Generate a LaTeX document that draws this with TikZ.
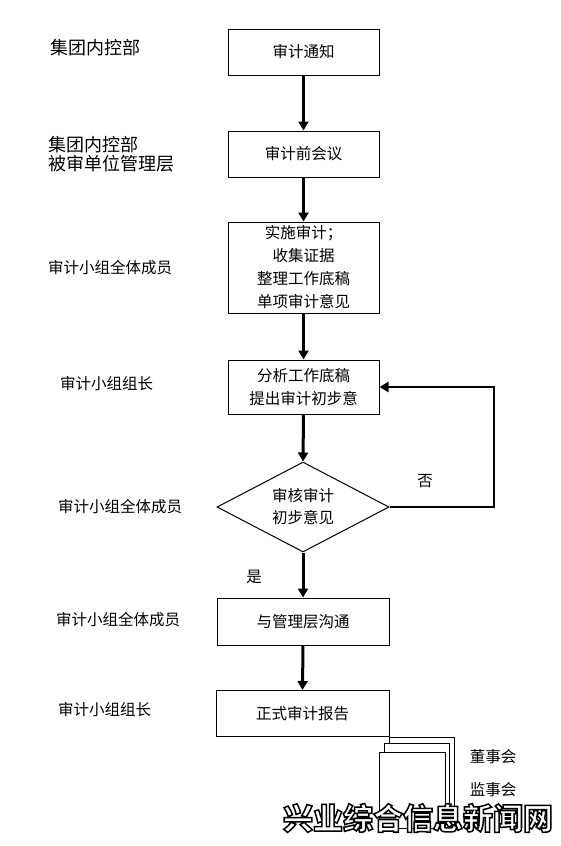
\documentclass[tikz,border=0pt]{standalone}
\usepackage{fontspec}
\setmainfont{Noto Sans CJK SC}
\usetikzlibrary{shapes.geometric,arrows.meta,calc}
\begin{document}
\begin{tikzpicture}[x=1pt,y=-1pt,
  box/.style={draw, line width=1pt, minimum width=151pt, inner sep=0pt, align=center, font=\fontsize{15.5}{23}\selectfont},
  flow/.style={line width=3pt, -{Triangle[width=10pt,length=9pt]}},
  loopline/.style={line width=2.2pt, -{Triangle[width=10pt,length=9pt]}},
  lab/.style={anchor=west, inner sep=0pt, font=\fontsize{15.5}{18}\selectfont, align=left},
  biglab/.style={anchor=west, inner sep=0pt, font=\fontsize{18}{19}\selectfont, align=left},
  note/.style={inner sep=0pt, font=\fontsize{15.5}{18}\selectfont},
  doc/.style={draw, line width=1pt, fill=white},
  wm/.style={inner sep=0pt, font=\fontsize{30}{30}\selectfont\bfseries}]
\useasboundingbox (0,0) rectangle (560,846);

% boxes
\node[box, minimum height=46pt] (b1) at (303.5,52) {审计通知};
\node[box, minimum height=46pt] (b2) at (303.5,154) {审计前会议};
\node[box, minimum height=91pt] (b3) at (303.5,267.5) {实施审计；\\收集证据\\整理工作底稿\\单项审计意见};
\node[box, minimum height=54pt] (b4) at (303.5,387) {分析工作底稿\\提出审计初步意};
\node[draw, line width=1pt, diamond, aspect=1.9, minimum width=172pt, minimum height=90pt, inner sep=0pt, align=center, font=\fontsize{15.5}{22}\selectfont] (d) at (303,507) {审核审计\\初步意见};
\node[box, minimum width=172pt, minimum height=47pt] (b5) at (303,621.5) {与管理层沟通};
\node[box, minimum width=173pt, minimum height=46pt] (b6) at (302.5,713.5) {正式审计报告};

% flow arrows
\draw[flow] (b1.south) -- (b2.north);
\draw[flow] (b2.south) -- (b3.north);
\draw[flow] (b3.south) -- (b4.north);
\draw[flow] (b4.south) -- (d.north);
\draw[flow] (d.south) -- (b5.north);
\draw[flow] (b5.south) -- (b6.north);

% loop back
\coordinate (lp) at (494,387);
\draw[loopline] (d.east) -| (lp) -- (b4.east);
\node[note] (no) at (425,481) {否};
\node[note] (yes) at (254,577) {是};

% left labels
\node[biglab] (l1) at (50,48) {集团内控部};
\node[biglab] (l2) at (48,154) {集团内控部\\被审单位管理层};
\node[lab] (l3) at (48,268) {审计小组全体成员};
\node[lab] (l4) at (60,384) {审计小组组长};
\node[lab] (l5) at (58,507) {审计小组全体成员};
\node[lab] (l6) at (56,620) {审计小组全体成员};
\node[lab] (l7) at (58,710) {审计小组组长};

% stacked documents
\draw[doc] (389,737) rectangle (454,828);
\draw[doc] (384,743) rectangle (449,828);
\draw[doc] (379,752) rectangle (445,828);
\node[note] (r1) at (493,757) {董事会};
\node[note] (r2) at (493,790) {监事会};

% watermark (white letters with a black outline)
\node[wm] (wmf) at (418,818) {\special{pdf:bcolor [1] [0]}\special{pdf:literal direct 2 Tr 1.5 w}兴业综合信息新闻网\special{pdf:literal direct 0 Tr 1 w}\special{pdf:ecolor}};
\end{tikzpicture}
\end{document}
